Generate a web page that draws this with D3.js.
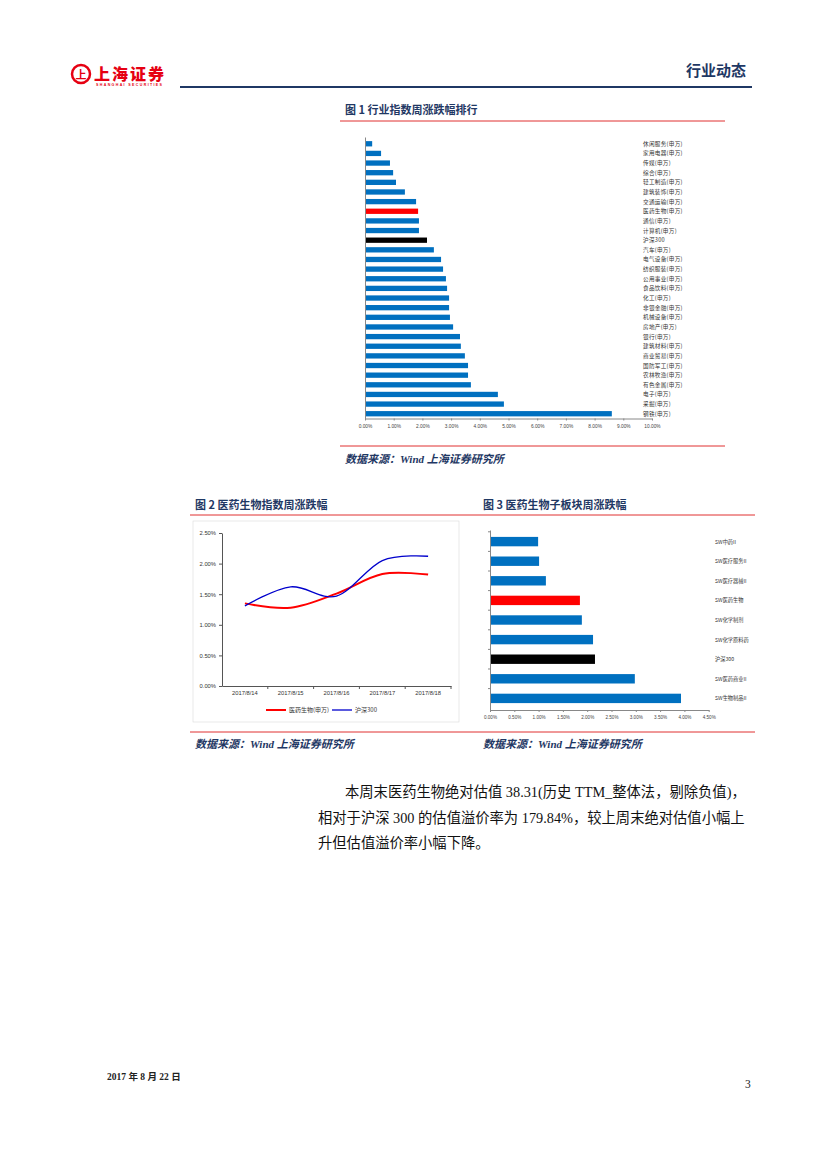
<!DOCTYPE html>
<html>
<head>
<meta charset="utf-8">
<script src="https://cdn.jsdelivr.net/npm/d3@7/dist/d3.min.js"></script>
<style>
body{margin:0;background:#fff;}
svg{display:block;}
</style>
</head>
<body>
<svg id="page" width="827" height="1169"></svg>
<script>
// ---- data ----
var industrias=["休闲服务(申万)","家用电器(申万)","传媒(申万)","综合(申万)","轻工制造(申万)","建筑装饰(申万)","交通运输(申万)","医药生物(申万)","通信(申万)","计算机(申万)","沪深300","汽车(申万)","电气设备(申万)","纺织服装(申万)","公用事业(申万)","食品饮料(申万)","化工(申万)","非银金融(申万)","机械设备(申万)","房地产(申万)","银行(申万)","建筑材料(申万)","商业贸易(申万)","国防军工(申万)","农林牧渔(申万)","有色金属(申万)","电子(申万)","采掘(申万)","钢铁(申万)"];
var cambioIndustria=[0.25,0.56,0.87,0.98,1.08,1.39,1.78,1.85,1.88,1.88,2.16,2.40,2.65,2.72,2.82,2.86,2.93,2.93,2.96,3.07,3.31,3.34,3.48,3.59,3.59,3.69,4.63,4.84,8.60];
var ticks1=[0,1,2,3,4,5,6,7,8,9,10];

var fechas=["2017/8/14","2017/8/15","2017/8/16","2017/8/17","2017/8/18"];
var serieMedico=[1.35,1.28,1.51,1.83,1.82];
var serieHS300=[1.31,1.62,1.47,2.05,2.12];
var ticks2=[0,0.5,1,1.5,2,2.5];
var nombresSeries=["医药生物(申万)","沪深300"];

var subsectores=["SW中药II","SW医疗服务II","SW医疗器械II","SW医药生物","SW化学制剂","SW化学原料药","沪深300","SW医药商业II","SW生物制品II"];
var cambioSub=[0.99,1.01,1.15,1.85,1.89,2.12,2.16,2.98,3.93];
var ticks3=[0,0.5,1,1.5,2,2.5,3,3.5,4,4.5];

var colorBarra="#0070c0", colorRojo="#ff0000", colorNegro="#000000";
var colorTitulo="#1f3864";
var fuenteCJK="'Noto Sans CJK SC','Noto Sans',sans-serif";
var fuenteSerif="'Liberation Serif','Noto Sans CJK SC',serif";

var svg=d3.select("#page");

function pct(v){ return v.toFixed(2)+"%"; }
function colorDe(nombre){
    if(nombre.indexOf("医药生物")>=0) return colorRojo;
    if(nombre=="沪深300") return colorNegro;
    return colorBarra;
}

// ---- header ----
svg.append("circle").attr("cx",81).attr("cy",74).attr("r",9).attr("fill","none").attr("stroke","#e60012").attr("stroke-width",2.5);
svg.append("text").attr("x",81).attr("y",78.5).attr("text-anchor","middle")
    .style("font-family",fuenteCJK).style("font-weight","bold").style("font-size","11px").style("fill","#e60012").text("上");
svg.append("text").attr("x",94).attr("y",80).style("font-family",fuenteCJK).style("font-weight","900")
    .style("font-size","16px").style("fill","#e60012").attr("textLength",70).text("上海证券");
svg.append("text").attr("x",96).attr("y",86).style("font-family","'Liberation Sans',sans-serif").style("font-weight","bold")
    .style("font-size","3.6px").style("fill","#e60012").attr("textLength",66).text("SHANGHAI SECURITIES");
svg.append("text").attr("x",746).attr("y",76).attr("text-anchor","end").style("font-family",fuenteCJK)
    .style("font-weight","bold").style("font-size","15px").style("fill",colorTitulo).text("行业动态");
svg.append("line").attr("x1",180).attr("x2",752).attr("y1",87).attr("y2",87).attr("stroke",colorTitulo).attr("stroke-width",2);

function titulo(x,y,txt){
    svg.append("text").attr("x",x).attr("y",y).style("font-family",fuenteCJK).style("font-weight","bold")
        .style("font-size","11px").style("fill",colorTitulo).text(txt);
}
function fuente(x,y){
    svg.append("text").attr("x",x).attr("y",y).style("font-family",fuenteSerif).style("font-weight","bold")
        .style("font-style","italic").style("font-size","11px").style("fill",colorTitulo).text("数据来源：Wind 上海证券研究所");
}
function lineaRoja(x1,x2,y){
    svg.append("line").attr("x1",x1).attr("x2",x2).attr("y1",y).attr("y2",y).attr("stroke","#e03030").attr("stroke-width",1);
}

// ---- figure 1 ----
titulo(345,114,"图 1 行业指数周涨跌幅排行");
lineaRoja(340,725,121);
lineaRoja(340,725,446);
fuente(345,463);

var x1=d3.scaleLinear().domain([0,10]).range([365,652]);
var y1=d3.scaleBand().domain(industrias).range([139,418.5]).paddingInner(0.45).paddingOuter(0.22);

var g1=svg.append("g");
g1.selectAll(".barra1").data(industrias).enter().append("rect")
    .attr("class","barra1")
    .attr("x",x1(0))
    .attr("y",function(d){ return y1(d); })
    .attr("height",y1.bandwidth())
    .attr("width",function(d,i){ return x1(cambioIndustria[i])-x1(0); })
    .attr("fill",function(d){ return colorDe(d); });

g1.selectAll(".etiq1").data(industrias).enter().append("text")
    .attr("class","etiq1")
    .attr("x",643)
    .attr("y",function(d){ return y1(d)+y1.bandwidth()/2+2; })
    .style("font-family",fuenteCJK).style("font-size","5.6px").style("fill","#333")
    .style("letter-spacing","0.3px")
    .text(function(d){ return d; });

var ejeX1=svg.append("g").attr("transform","translate(0,418.5)")
    .call(d3.axisBottom(x1).tickValues(ticks1).tickFormat(pct).tickSize(2).tickSizeOuter(0));
ejeX1.select(".domain").attr("stroke","#888");
ejeX1.selectAll(".tick line").attr("stroke","#888");
ejeX1.selectAll("text").style("font-family","'Liberation Sans',sans-serif").style("font-size","4.8px").style("fill","#444").attr("dy","0.9em");

var ejeY1=svg.append("g").attr("transform","translate(365,0)")
    .call(d3.axisLeft(d3.scaleLinear().domain([0,1]).range([418.5,137])).ticks(0).tickSizeOuter(0));
ejeY1.select(".domain").attr("stroke","#888");

// ---- figure 2 ----
titulo(195,509,"图 2 医药生物指数周涨跌幅");
titulo(483,509,"图 3 医药生物子板块周涨跌幅");
lineaRoja(190,755,515);
lineaRoja(190,755,732);
fuente(195,748);
fuente(483,748);

svg.append("rect").attr("x",193).attr("y",521).attr("width",266).attr("height",201)
    .attr("fill","none").attr("stroke","#d9d9d9").attr("stroke-width",0.6);

var x2=d3.scaleBand().domain(fechas).range([222,451]);
var y2=d3.scaleLinear().domain([0,2.5]).range([686,533]);

var ejeY2=svg.append("g").attr("transform","translate(222,0)")
    .call(d3.axisLeft(y2).tickValues(ticks2).tickFormat(pct).tickSize(3).tickSizeOuter(0));
ejeY2.selectAll("text").style("font-family","'Liberation Sans',sans-serif").style("font-size","5.8px").style("fill","#333");
ejeY2.select(".domain").attr("stroke","#555");
ejeY2.selectAll(".tick line").attr("stroke","#555");

var ejeX2=svg.append("g").attr("transform","translate(0,686)")
    .call(d3.axisBottom(x2).tickSize(0).tickSizeOuter(0));
ejeX2.select(".domain").attr("stroke","#555");
ejeX2.selectAll("text").style("font-family","'Liberation Sans',sans-serif").style("font-size","5.8px").style("fill","#333").attr("dy","1.1em");
ejeX2.selectAll(".sep").data(fechas).enter().append("line").attr("class","sep")
    .attr("x1",function(d){ return x2(d)+x2.bandwidth(); }).attr("x2",function(d){ return x2(d)+x2.bandwidth(); })
    .attr("y1",0).attr("y2",3).attr("stroke","#555");

var linea2=d3.line()
    .x(function(d,i){ return x2(fechas[i])+x2.bandwidth()/2; })
    .y(function(d){ return y2(d); })
    .curve(d3.curveCardinal.tension(0));

svg.append("path").datum(serieMedico).attr("d",linea2).attr("fill","none").attr("stroke",colorRojo).attr("stroke-width",2);
svg.append("path").datum(serieHS300).attr("d",linea2).attr("fill","none").attr("stroke","#0000cc").attr("stroke-width",1.3);

var leyenda=[{x:266,color:colorRojo,w:2},{x:332,color:"#0000cc",w:1.3}];
leyenda.forEach(function(l,i){
    svg.append("line").attr("x1",l.x).attr("x2",l.x+20).attr("y1",710).attr("y2",710).attr("stroke",l.color).attr("stroke-width",l.w);
    svg.append("text").attr("x",l.x+23).attr("y",712.2).style("font-family",fuenteCJK).style("font-size","6px").style("fill","#333").text(nombresSeries[i]);
});

// ---- figure 3 ----
var x3=d3.scaleLinear().domain([0,4.5]).range([490,708.7]);
var y3=d3.scaleBand().domain(subsectores).range([532,708]).paddingInner(0.52).paddingOuter(0.25);

svg.selectAll(".barra3").data(subsectores).enter().append("rect")
    .attr("class","barra3")
    .attr("x",x3(0))
    .attr("y",function(d){ return y3(d); })
    .attr("height",y3.bandwidth())
    .attr("width",function(d,i){ return x3(cambioSub[i])-x3(0); })
    .attr("fill",function(d){ return colorDe(d); });

svg.selectAll(".etiq3").data(subsectores).enter().append("text")
    .attr("class","etiq3")
    .attr("x",715)
    .attr("y",function(d){ return y3(d)+y3.bandwidth()/2+2; })
    .style("font-family",fuenteCJK).style("font-size","5.2px").style("fill","#333")
    .text(function(d){ return d; });

var ejeX3=svg.append("g").attr("transform","translate(0,710)")
    .call(d3.axisBottom(x3).tickValues(ticks3).tickFormat(pct).tickSize(2).tickSizeOuter(0));
ejeX3.select(".domain").attr("stroke","#888");
ejeX3.selectAll(".tick line").attr("stroke","#888");
ejeX3.selectAll("text").style("font-family","'Liberation Sans',sans-serif").style("font-size","4.6px").style("fill","#444").attr("dy","0.9em");

var ejeY3=svg.append("g").attr("transform","translate(490,0)")
    .call(d3.axisLeft(d3.scaleLinear().domain([0,1]).range([710,530])).ticks(0).tickSizeOuter(0));
ejeY3.select(".domain").attr("stroke","#888");
ejeY3.selectAll(".sep3").data(subsectores).enter().append("line").attr("class","sep3")
    .attr("x1",-2).attr("x2",0)
    .attr("y1",function(d){ return y3(d)-y3.step()*y3.paddingInner()/2; })
    .attr("y2",function(d){ return y3(d)-y3.step()*y3.paddingInner()/2; })
    .attr("stroke","#888");

// ---- body text ----
var parrafo=["本周末医药生物绝对估值 38.31(历史 TTM_整体法，剔除负值)，","相对于沪深 300 的估值溢价率为 179.84%，较上周末绝对估值小幅上","升但估值溢价率小幅下降。"];
var xParrafo=[345,318,318];
parrafo.forEach(function(t,i){
    svg.append("text").attr("x",xParrafo[i]).attr("y",797+i*25.5)
        .style("font-family",fuenteSerif).style("font-size","14.3px").style("fill","#111").text(t);
});

// ---- footer ----
svg.append("text").attr("x",107).attr("y",1080).style("font-family",fuenteSerif).style("font-weight","bold")
    .style("font-size","9.5px").style("fill","#222").text("2017 年 8 月 22 日");
svg.append("text").attr("x",745).attr("y",1088).style("font-family",fuenteSerif)
    .style("font-size","11.5px").style("fill","#222").text("3");
</script>
</body>
</html>
